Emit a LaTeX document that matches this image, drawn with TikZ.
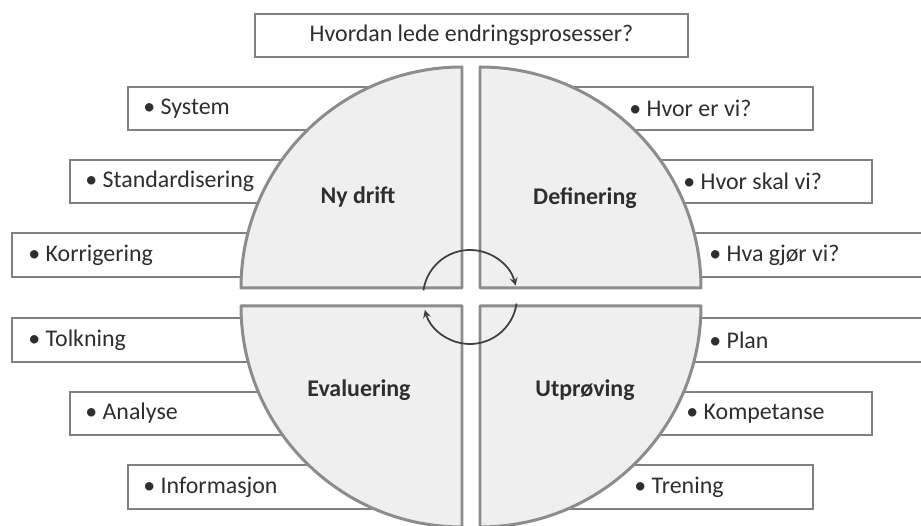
\documentclass[tikz,border=0pt]{standalone}
\usepackage{fontspec}
\setmainfont{Carlito}
\usetikzlibrary{arrows,positioning,fit,shadows}
\pgfdeclarelayer{edgelayer}
\pgfdeclarelayer{nodelayer}
\pgfsetlayers{edgelayer,nodelayer,main}
\definecolor{boxgray}{HTML}{808080}
\definecolor{quadfill}{HTML}{EFEFEF}
\definecolor{quadline}{HTML}{8C8C8C}
\definecolor{textgray}{HTML}{2E2E2E}
\tikzstyle{listbox}=[draw=boxgray, fill=white, line width=1.1pt, inner sep=0pt, drop shadow={shadow xshift=0.8pt, shadow yshift=-0.8pt, opacity=0.35}]
\tikzstyle{item}=[anchor=west, inner sep=0pt, text=textgray, font=\fontsize{13.6}{16}\selectfont]
\tikzstyle{phase}=[inner sep=0pt, text=textgray, font=\fontsize{13.6}{16}\selectfont\bfseries]
\tikzstyle{quadrant}=[fill=quadfill, draw=quadline, line width=1.7pt, line join=round]
\tikzstyle{cyclearrow}=[->, >=stealth, draw=black!75, line width=1pt]
\tikzstyle{none}=[inner sep=0pt]

\begin{document}
\begin{tikzpicture}[x=0.02cm, y=0.02cm]
	\useasboundingbox (0,0) rectangle (921,526);
	\begin{pgfonlayer}{edgelayer}
		% left boxes
		\node [listbox, fit={(128,396) (452,439)}] (sysbox) {};
		\node [listbox, fit={(70,323) (452,366)}] (stdbox) {};
		\node [listbox, fit={(12,249) (452,293)}] (korbox) {};
		\node [listbox, fit={(12,164) (452,208)}] (tolbox) {};
		\node [listbox, fit={(70,91) (452,134)}] (anabox) {};
		\node [listbox, fit={(128,17) (452,61)}] (infbox) {};
		% right boxes
		\node [listbox, fit={(490,396) (813,439)}] (hevbox) {};
		\node [listbox, fit={(490,323) (872,366)}] (hsvbox) {};
		\node [listbox, fit={(490,249) (940,293)}] (hgvbox) {};
		\node [listbox, fit={(490,164) (940,208)}] (plnbox) {};
		\node [listbox, fit={(490,91) (872,134)}] (kombox) {};
		\node [listbox, fit={(490,17) (813,61)}] (trebox) {};

		\node [style=item] (sys) at (143,417.5) {\textbullet\ System};
		\node [style=item] (std) at (85,344.5) {\textbullet\ Standardisering};
		\node [style=item] (kor) at (28,271) {\textbullet\ Korrigering};
		\node [style=item] (tol) at (28,186) {\textbullet\ Tolkning};
		\node [style=item] (ana) at (85,112.5) {\textbullet\ Analyse};
		\node [style=item] (inf) at (143,39) {\textbullet\ Informasjon};
		\node [style=item] (hev) at (629,417.5) {\textbullet\ Hvor er vi?};
		\node [style=item] (hsv) at (683,344.5) {\textbullet\ Hvor skal vi?};
		\node [style=item] (hgv) at (709,271) {\textbullet\ Hva gjør vi?};
		\node [style=item] (pln) at (709,186) {\textbullet\ Plan};
		\node [style=item] (kom) at (686,112.5) {\textbullet\ Kompetanse};
		\node [style=item] (tre) at (634,39) {\textbullet\ Trening};
	\end{pgfonlayer}
	\begin{pgfonlayer}{nodelayer}
		\coordinate (nw) at (462,238);
		\coordinate (ne) at (480,238);
		\coordinate (se) at (480,220);
		\coordinate (sw) at (462,220);
		\draw [style=quadrant] (nw) -- ++(-221,0) arc[start angle=180, end angle=90, radius=221] -- cycle;
		\draw [style=quadrant] (ne) -- ++(0,221) arc[start angle=90, end angle=0, radius=221] -- cycle;
		\draw [style=quadrant] (se) -- ++(221,0) arc[start angle=0, end angle=-90, radius=221] -- cycle;
		\draw [style=quadrant] (sw) -- ++(0,-221) arc[start angle=270, end angle=180, radius=221] -- cycle;
	\end{pgfonlayer}

	\node [listbox, fit={(255,469) (688,512)}] (titlebox) {};
	\node [style=phase, font=\fontsize{13.6}{16}\selectfont] (title) at (titlebox.center) {Hvordan lede endringsprosesser?};

	\node [style=phase] (nydrift) at (358,329) {Ny drift};
	\node [style=phase] (definering) at (585,328) {Definering};
	\node [style=phase] (evaluering) at (359,136) {Evaluering};
	\node [style=phase] (utproving) at (585,136) {Utprøving};

	\coordinate (cyc) at (470,229);
	\draw [style=cyclearrow] (cyc) ++(172:47) arc[start angle=172, end angle=14, radius=47];
	\draw [style=cyclearrow] (cyc) ++(-8:47) arc[start angle=-8, end angle=-164, radius=47];
\end{tikzpicture}
\end{document}
